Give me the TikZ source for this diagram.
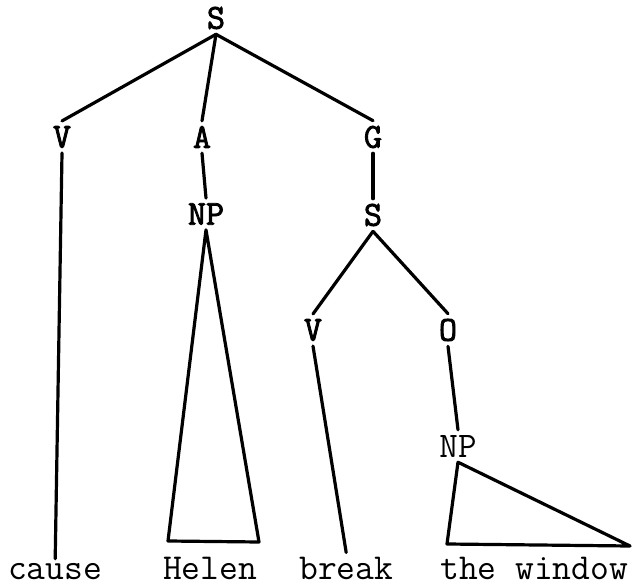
\documentclass[tikz,border=0pt]{standalone}
\usepackage{fontspec}
\newfontfamily\catfont{Latin Modern Mono}[FakeBold=2.4]
\begin{document}
\begin{tikzpicture}
    [
    x=1pt, y=-1pt,
    cat/.style={inner sep=5pt, font=\catfont\fontsize{35}{35}\selectfont},
    leafcat/.style={inner sep=5pt, font=\ttfamily\fontsize{36}{36}\selectfont},
    word/.style={inner xsep=0pt, inner ysep=4pt, anchor=base west, font=\ttfamily\fontsize{36.5}{37}\selectfont},
    branch/.style={line width=3.2pt, line cap=round, line join=round}
    ]
    \useasboundingbox (0,0) rectangle (635,586);
    % categories
    \node (S) at (216,18) [cat] {S};
    \node (V) at (62,137) [cat] {V};
    \node (A) at (202,137) [cat] {A};
    \node (G) at (373,137) [cat] {G};
    \node (NP) at (206,214) [cat] {NP};
    \node (S2) at (373,215) [cat] {S};
    \node (V2) at (313,330) [cat] {V};
    \node (O) at (448,330) [cat] {O};
    \node (NP2) at (458,446) [leafcat] {NP};
    % the words
    \node (cause) at (8,579) [word] {cause};
    \node (Helen) at (163,579) [word] {Helen};
    \node (break) at (299,579) [word] {break};
    \node (window) at (440,579) [word] {the window};
    % corners of the two triangles
    \coordinate (NPl) at (168,541);
    \coordinate (NPr) at (259,542);
    \coordinate (NP2l) at (447,544);
    \coordinate (NP2r) at (630,546);
    % branches
    \draw [branch] (S.south) to (V.north);
    \draw [branch] (S.south) to (A.north);
    \draw [branch] (S.south) to (G.north);
    \draw [branch] (V.south) to (cause.north);
    \draw [branch] (A.south) to (NP.north);
    \draw [branch] (G.south) to (S2.north);
    \draw [branch] (NP.south) -- (NPl) -- (NPr) -- cycle;
    \draw [branch] (S2.south) to (V2.north);
    \draw [branch] (S2.south) to (O.north);
    \draw [branch] (V2.south) to (break.north);
    \draw [branch] (O.south) to (NP2.north);
    \draw [branch] (NP2.south) -- (NP2l) -- (NP2r) -- cycle;
  \end{tikzpicture}
\end{document}
